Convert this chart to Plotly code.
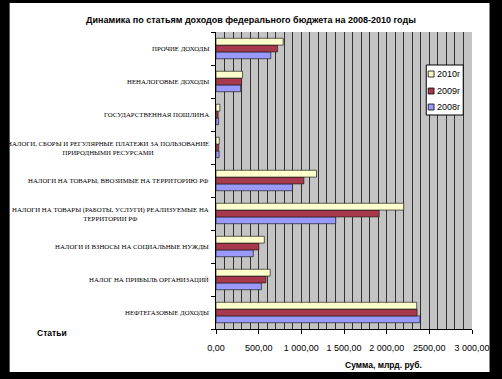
import plotly.graph_objects as go

categories = [
    "НЕФТЕГАЗОВЫЕ ДОХОДЫ",
    "НАЛОГ НА ПРИБЫЛЬ ОРГАНИЗАЦИЙ",
    "НАЛОГИ И ВЗНОСЫ НА СОЦИАЛЬНЫЕ НУЖДЫ",
    "НАЛОГИ НА ТОВАРЫ (РАБОТЫ, УСЛУГИ) РЕАЛИЗУЕМЫЕ НА<br>ТЕРРИТОРИИ РФ",
    "НАЛОГИ НА ТОВАРЫ, ВВОЗИМЫЕ НА ТЕРРИТОРИЮ РФ",
    "НАЛОГИ, СБОРЫ И РЕГУЛЯРНЫЕ ПЛАТЕЖИ ЗА ПОЛЬЗОВАНИЕ<br>ПРИРОДНЫМИ РЕСУРСАМИ",
    "ГОСУДАРСТВЕННАЯ ПОШЛИНА",
    "НЕНАЛОГОВЫЕ ДОХОДЫ",
    "ПРОЧИЕ ДОХОДЫ",
]
values_2008 = [2390, 532, 437, 1403, 897, 36, 30, 289, 642]
values_2009 = [2356, 585, 502, 1912, 1030, 32, 25, 300, 722]
values_2010 = [2352, 635, 566, 2200, 1178, 38, 45, 311, 787]
series_names = ["2008г", "2009г", "2010г"]
series_colors = ["#9999FF", "#A8384C", "#FFFFCC"]
tick_values = [0, 500, 1000, 1500, 2000, 2500, 3000]
tick_labels = ["0,00", "500,00", "1 000,00", "1 500,00", "2 000,00", "2500,00", "3 000,00"]

fig = go.Figure()
for name, vals, col in zip(series_names, [values_2008, values_2009, values_2010], series_colors):
    fig.add_trace(go.Bar(
        y=categories, x=vals, name=name, orientation="h", showlegend=False,
        marker=dict(color=col, line=dict(color="#202020", width=0.7)),
    ))

# plot-area pixel geometry helpers (for frame / legend box placement)
PL, PR, PT, PB = 216, 479, 32, 329
def px_x(p):
    return (p - PL) / (PR - PL)
def px_y(p):
    return (PB - p) / (PB - PT)

annotations = []
for c in categories:
    annotations.append(dict(
        x=0, xref="paper", y=c, yref="y", xanchor="right", yanchor="middle",
        xshift=-5, text=c, showarrow=False, align="center",
        font=dict(family="Liberation Serif, Times New Roman, serif", size=6.8, color="black"),
    ))
annotations.append(dict(
    x=px_x(30), xref="paper", y=px_y(333), yref="paper", xanchor="left", yanchor="middle",
    text="Статьи", showarrow=False,
    font=dict(family="Liberation Sans, Arial, sans-serif", size=8.5, color="black", weight="bold"),
))
annotations.append(dict(
    x=px_x(388), xref="paper", y=px_y(365), yref="paper", xanchor="center", yanchor="middle",
    text="Сумма, млрд. руб.", showarrow=False,
    font=dict(family="Liberation Sans, Arial, sans-serif", size=8.5, color="black", weight="bold"),
))

shapes = [
    dict(type="rect", xref="paper", yref="paper", x0=px_x(4), x1=px_x(497),
         y0=px_y(372), y1=px_y(3), fillcolor="white", line=dict(width=0), layer="below"),
    dict(type="rect", xref="paper", yref="paper", x0=0, x1=1, y0=0, y1=1,
         fillcolor="#C4C4C4", line=dict(width=0), layer="below"),
    # legend box
    dict(type="rect", xref="paper", yref="paper", x0=px_x(432), x1=px_x(470),
         y0=px_y(115), y1=px_y(65), fillcolor="white", line=dict(color="black", width=1), layer="above"),
]
# legend entries, top to bottom: 2010, 2009, 2008
legend_rows = [74, 91, 107]
for (name, col), row in zip(list(zip(series_names, series_colors))[::-1], legend_rows):
    shapes.append(dict(type="rect", xref="paper", yref="paper",
                       x0=px_x(434), x1=px_x(440), y0=px_y(row + 3), y1=px_y(row - 3),
                       fillcolor=col, line=dict(color="black", width=0.8), layer="above"))
    annotations.append(dict(x=px_x(441), xref="paper", y=px_y(row), yref="paper",
                            xanchor="left", yanchor="middle", text=name, showarrow=False,
                            font=dict(family="Liberation Sans, Arial, sans-serif", size=9, color="black")))

fig.update_layout(
    width=502, height=379,
    margin=dict(l=PL, r=502 - PR, t=PT, b=379 - PB),
    paper_bgcolor="black", plot_bgcolor="#C4C4C4",
    barmode="group", bargap=0.38, bargroupgap=0,
    title=dict(text="Динамика по статьям доходов федерального бюджета на 2008-2010 годы",
               x=251 / 502, xref="container", xanchor="center", y=1 - 20 / 379, yanchor="middle",
               font=dict(family="Liberation Sans, Arial, sans-serif", size=9,
                         color="black", weight="bold")),
    annotations=annotations, shapes=shapes,
    showlegend=False,
)
fig.update_xaxes(
    range=[0, 3000], tickvals=tick_values, ticktext=tick_labels,
    showgrid=True, gridcolor="#303030", gridwidth=1,
    minor=dict(dtick=100, showgrid=True, gridcolor="#303030", gridwidth=1),
    ticks="outside", ticklen=4, tickcolor="black", ticklabelstandoff=6,
    showline=True, linecolor="black", linewidth=1,
    tickfont=dict(family="Liberation Sans, Arial, sans-serif", size=9, color="black"),
    zeroline=False, fixedrange=True,
)
fig.update_yaxes(
    showticklabels=False, ticks="outside", tickson="boundaries", ticklen=4, tickcolor="black",
    showline=True, linecolor="black", linewidth=1, showgrid=False, fixedrange=True,
)

fig.write_html("out.html", config={"displayModeBar": False},
               post_script="document.body.style.margin='0';")
